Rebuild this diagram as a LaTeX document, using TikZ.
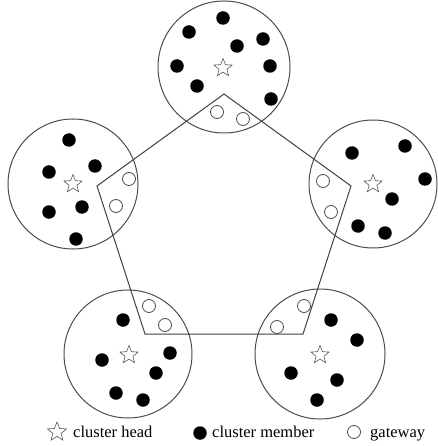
\documentclass[tikz,border=0pt]{standalone}
\usepackage{fontspec}
\setmainfont{Liberation Serif}
\usetikzlibrary{shapes.geometric}
\begin{document}
\begin{tikzpicture}[x=1pt,y=-1pt,
  cluster/.style={draw=black!70,line width=1pt,circle,inner sep=0pt},
  member/.style={fill=black,circle,inner sep=0pt,minimum size=13.5pt},
  gw/.style={draw=black!70,line width=0.8pt,circle,inner sep=0pt,minimum size=13pt,fill=white},
  head/.style={draw=black!65,line width=0.6pt,star,star points=5,star point ratio=2.3,inner sep=0pt,minimum size=19pt},
  edge/.style={draw=black!75,line width=1pt},
  lbl/.style={anchor=base west,inner sep=0pt,font=\fontsize{16.5}{18}\selectfont}]
\useasboundingbox (0,0) rectangle (437,446);
\fill[white] (0,0) rectangle (437,446);
% clusters
\node[cluster,minimum size=132pt] (cT) at (224,67) {};
\node[cluster,minimum size=130pt] (cL) at (73,184) {};
\node[cluster,minimum size=128pt] (cR) at (373,184) {};
\node[cluster,minimum size=128pt] (cBL) at (128,354) {};
\node[cluster,minimum size=130pt] (cBR) at (320,354) {};
% pentagon
\coordinate (pT) at (224,94);
\coordinate (pR) at (351,186);
\coordinate (pBR) at (303,334);
\coordinate (pBL) at (145,334);
\coordinate (pL) at (97,186);
\draw[edge] (pT) -- (pR) -- (pBR) -- (pBL) -- (pL) -- cycle;
% heads
\node[head] (hT) at (223,68) {};
\node[head] (hL) at (73,184) {};
\node[head] (hR) at (373,184) {};
\node[head] (hBL) at (129,355) {};
\node[head] (hBR) at (320,355) {};
% members top
\node[member] (mT1) at (223,18) {};
\node[member] (mT2) at (189,32) {};
\node[member] (mT3) at (237,46) {};
\node[member] (mT4) at (263,39) {};
\node[member] (mT5) at (177,66) {};
\node[member] (mT6) at (270,66) {};
\node[member] (mT7) at (197,86) {};
\node[member] (mT8) at (271,99) {};
% members left
\node[member] (mL1) at (69,140) {};
\node[member] (mL2) at (95,166) {};
\node[member] (mL3) at (49,172) {};
\node[member] (mL4) at (82,207) {};
\node[member] (mL5) at (49,212) {};
\node[member] (mL6) at (76,239) {};
% members right
\node[member] (mR1) at (352,153) {};
\node[member] (mR2) at (405,146) {};
\node[member] (mR3) at (425,179) {};
\node[member] (mR4) at (392,199) {};
\node[member] (mR5) at (358,226) {};
\node[member] (mR6) at (385,233) {};
% members bottom-left
\node[member] (mBL1) at (123,320) {};
\node[member] (mBL2) at (102,360) {};
\node[member] (mBL3) at (170,353) {};
\node[member] (mBL4) at (156,373) {};
\node[member] (mBL5) at (116,393) {};
\node[member] (mBL6) at (143,400) {};
% members bottom-right
\node[member] (mBR1) at (331,320) {};
\node[member] (mBR2) at (357,340) {};
\node[member] (mBR3) at (291,373) {};
\node[member] (mBR4) at (337,380) {};
\node[member] (mBR5) at (317,400) {};
% gateways
\node[gw] (gT1) at (217,112) {};
\node[gw] (gT2) at (243,119) {};
\node[gw] (gL1) at (129,179) {};
\node[gw] (gL2) at (116,206) {};
\node[gw] (gR1) at (323,181) {};
\node[gw] (gR2) at (331,212) {};
\node[gw] (gBL1) at (149,306) {};
\node[gw] (gBL2) at (165,325) {};
\node[gw] (gBR1) at (304,306) {};
\node[gw] (gBR2) at (277,327) {};
% legend
\node[head,minimum size=20pt] (lgH) at (57,432) {};
\node[lbl] (lgHt) at (73,437) {cluster head};
\node[member] (lgM) at (200,433) {};
\node[lbl] (lgMt) at (212,437) {cluster member};
\node[gw] (lgG) at (354,432) {};
\node[lbl] (lgGt) at (370,437) {gateway};
\end{tikzpicture}
\end{document}
